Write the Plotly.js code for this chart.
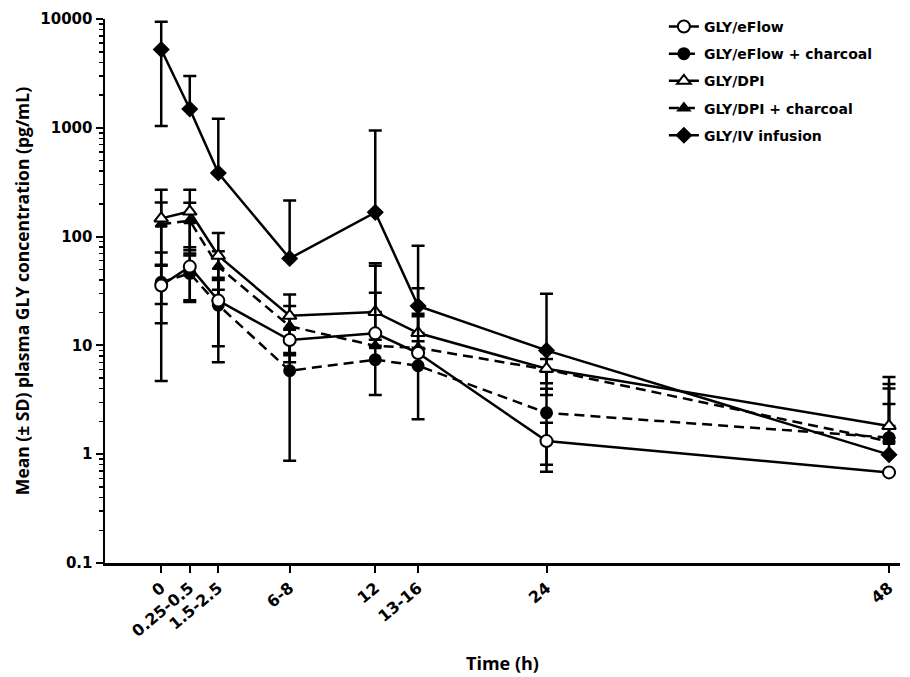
<!DOCTYPE html>
<html>
<head>
<meta charset="utf-8">
<script src="https://cdn.plot.ly/plotly-3.0.1.min.js"></script>
<style>html,body{margin:0;padding:0;background:#fff;}#chart{width:910px;height:677px;}</style>
</head>
<body>
<div id="chart"></div>
<script>
// Time points: tick labels and their positions on the time axis
const timeLabels = ['0', '0.25-0.5', '1.5-2.5', '6-8', '12', '13-16', '24', '48'];
const timePos = [-3, -1, 1, 6, 12, 15, 24, 48];

// Series names
const seriesNames = ['GLY/eFlow', 'GLY/eFlow + charcoal', 'GLY/DPI', 'GLY/DPI + charcoal', 'GLY/IV infusion'];

// Mean plasma GLY concentration (pg/mL)
const eflowMean   = [35.5, 53, 25.8, 11.2, 12.9, 8.5, 1.32, 0.68];
const eflowCMean  = [38, 46, 23.5, 5.85, 7.4, 6.5, 2.4, 1.42];
const dpiMean     = [147, 170, 66.7, 18.7, 20.3, 13, 6.1, 1.82];
const dpiCMean    = [130, 140, 53, 15, 9.9, 9.5, 6.0, 1.31];
const ivMean      = [5240, 1490, 384, 63, 167, 23, 9.0, 0.99];

// Standard deviations (pg/mL)
const eflowSD  = [19.5, 27, 16, 2.7, 41, 10, 0.63, 0];
const eflowCSD = [33.3, 21, 16.5, 4.98, 3.9, 4.4, 1.6, 3.0];
const dpiSD    = [123, 100, 41, 10.6, 36.5, 20.6, 2.6, 3.3];
const dpiCSD   = [76, 65, 20.5, 8, 20.5, 10, 1.5, 2.7];
const ivSD     = [4200, 1500, 824, 152, 775, 59.5, 20.8, 1.9];

const FONT = 'DejaVu Sans';
const TFONT = 'Liberation Sans Narrow, Open Sans, sans-serif';

function lowerErr(mean, sd) {
  // On a log axis the lower whisker is only drawn when it stays positive
  return sd.map((s, i) => (mean[i] - s > 0 ? s : 0));
}

function makeTrace(idx, mean, sd, symbol, filled, dashed, size) {
  const name = seriesNames[idx];
  return {
    type: 'scatter',
    mode: 'lines+markers',
    name: name,
    legendgroup: name,
    legendrank: idx + 1,
    x: timePos,
    y: mean,
    line: {color: '#000', width: 2.5, dash: dashed ? '10px,6px' : 'solid'},
    marker: {
      symbol: symbol,
      size: size,
      color: filled ? '#000' : '#fff',
      line: {color: '#000', width: 2}
    },
    error_y: {
      type: 'data',
      symmetric: false,
      array: sd,
      arrayminus: lowerErr(mean, sd),
      color: '#000',
      thickness: 2.5,
      width: 6.5
    },
    cliponaxis: false
  };
}

// Drawing order: filled markers first, open markers on top
const traces = [
  makeTrace(4, ivMean, ivSD, 'diamond', true, false, 11),
  makeTrace(3, dpiCMean, dpiCSD, 'triangle-up', true, true, 10),
  makeTrace(1, eflowCMean, eflowCSD, 'circle', true, true, 11),
  makeTrace(2, dpiMean, dpiSD, 'triangle-up', false, false, 12),
  makeTrace(0, eflowMean, eflowSD, 'circle', false, false, 12)
];

// Minor log ticks
const minorVals = [];
for (let e = -1; e < 4; e++) {
  for (let m = 2; m <= 9; m++) minorVals.push(m * Math.pow(10, e));
}

const layout = {
  width: 910,
  height: 677,
  margin: {l: 105, r: 10, t: 19, b: 114},
  paper_bgcolor: '#fff',
  plot_bgcolor: '#fff',
  showlegend: true,
  legend: {
    x: 0.703, xanchor: 'left',
    y: 1.015, yanchor: 'top',
    traceorder: 'grouped',
    tracegroupgap: 6,
    font: {family: FONT, size: 14, weight: 700, color: '#000'},
    bgcolor: 'rgba(0,0,0,0)'
  },
  xaxis: {
    range: [-6.94, 48.77],
    tickmode: 'array',
    tickvals: timePos,
    ticktext: timeLabels,
    tickangle: -40,
    ticks: 'outside',
    ticklen: 7,
    tickwidth: 2,
    tickcolor: '#000',
    showline: true,
    linewidth: 2.5,
    linecolor: '#000',
    showgrid: false,
    zeroline: false,
    tickfont: {family: FONT, size: 16, weight: 700, color: '#000'},
    title: {text: 'Time (h)', standoff: 18, font: {family: TFONT, size: 18, weight: 700, color: '#000'}}
  },
  yaxis: {
    type: 'log',
    range: [-1, 4],
    tickmode: 'array',
    tickvals: [0.1, 1, 10, 100, 1000, 10000],
    ticktext: ['0.1', '1', '10', '100', '1000', '10000'],
    ticks: 'outside',
    ticklen: 7,
    tickwidth: 2,
    tickcolor: '#000',
    minor: {tickmode: 'array', tickvals: minorVals, ticks: 'outside', ticklen: 4, tickwidth: 1.5, tickcolor: '#000', showgrid: false},
    showline: true,
    linewidth: 2.5,
    linecolor: '#000',
    showgrid: false,
    zeroline: false,
    tickfont: {family: FONT, size: 15, weight: 700, color: '#000'},
    title: {text: 'Mean (± SD) plasma GLY concentration (pg/mL)', standoff: 6, font: {family: TFONT, size: 17.5, weight: 700, color: '#000'}}
  }
};

Plotly.newPlot('chart', traces, layout, {displayModeBar: false, staticPlot: true});
</script>
</body>
</html>
